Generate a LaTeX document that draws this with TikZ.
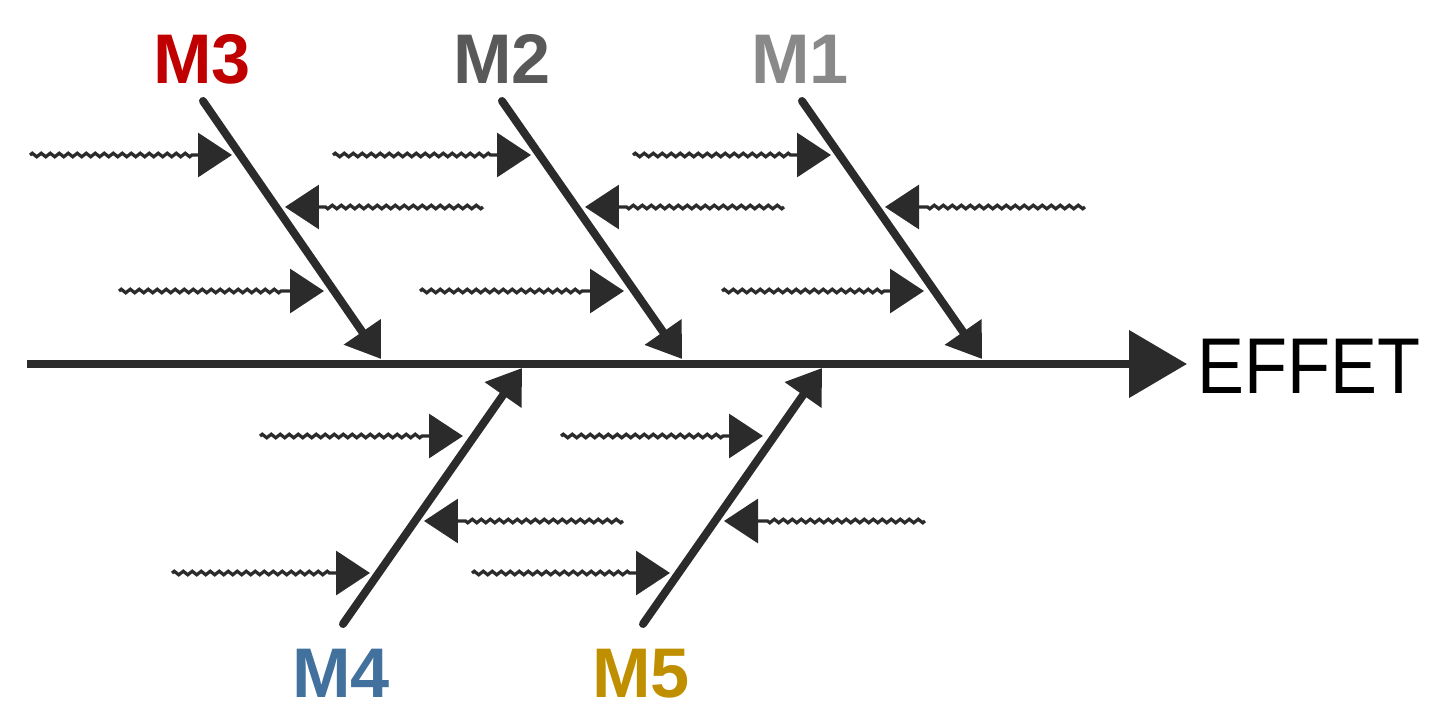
\documentclass[tikz,border=0pt]{standalone}
\usepackage{fontspec}
\setmainfont{Liberation Sans}
\usetikzlibrary{arrows.meta,decorations.pathmorphing}
\definecolor{bonegray}{HTML}{2B2B2B}
\definecolor{mcolA}{HTML}{898989}
\definecolor{mcolB}{HTML}{595959}
\definecolor{mcolC}{HTML}{C00000}
\definecolor{mcolD}{HTML}{41719C}
\definecolor{mcolE}{HTML}{BF8F00}
\begin{document}
\begin{tikzpicture}[x=0.02cm,y=-0.02cm,
  spine/.style={draw=bonegray,line width=0.16cm,-{Triangle[length=1.16cm,width=1.32cm]}},
  bone/.style={draw=bonegray,line width=0.16cm,line cap=round,-{Triangle[length=0.66cm,width=0.86cm]}},
  cause/.style={draw=bonegray,line width=0.065cm,decorate,
    decoration={zigzag,segment length=0.18cm,amplitude=0.035cm,post length=0.8cm},
    -{Triangle[length=0.68cm,width=0.88cm]}},
  mname/.style={anchor=base,inner sep=0pt,font=\fontsize{40}{40}\selectfont\bfseries}]
\useasboundingbox (0,0) rectangle (1444,727);

% labels
\node[mname,text=mcolC] (m3) at (202,83) {M3};
\node[mname,text=mcolB] (m2) at (502,83) {M2};
\node[mname,text=mcolA] (m1) at (800,83) {M1};
\node[mname,text=mcolD] (m4) at (341,697) {M4};
\node[mname,text=mcolE] (m5) at (641,697) {M5};
\node[anchor=base west,inner sep=0pt,font=\fontsize{45}{45}\selectfont] (effet) at (1197,393) {\scalebox{0.89}[1]{EFFET}};

% spine
\coordinate (tail) at (27,364);
\path[spine] (tail) -- (tail -| effet.west) [shorten >=0.2cm];

% bones
\coordinate (m3s) at (203,101);
\coordinate (m3e) at (381,359);
\coordinate (m2s) at (502,101);
\coordinate (m2e) at (682,359);
\coordinate (m1s) at (802,101);
\coordinate (m1e) at (982,359);
\coordinate (m4s) at (343,624);
\coordinate (m4e) at (522,368);
\coordinate (m5s) at (643,624);
\coordinate (m5e) at (822,368);
\path[bone] (m3s) -- (m3e);
\path[bone] (m2s) -- (m2e);
\path[bone] (m1s) -- (m1e);
\path[bone] (m4s) -- (m4e);
\path[bone] (m5s) -- (m5e);

% causes M3
\coordinate (c3a) at (30,155);   \coordinate (t3a) at (232,155);
\coordinate (c3b) at (483,207);  \coordinate (t3b) at (285,207);
\coordinate (c3c) at (119,291);  \coordinate (t3c) at (324,291);
\path[cause] (c3a) -- (t3a);
\path[cause] (c3b) -- (t3b);
\path[cause] (c3c) -- (t3c);

% causes M2
\coordinate (c2a) at (333,155);  \coordinate (t2a) at (531,155);
\coordinate (c2b) at (784,207);  \coordinate (t2b) at (585,207);
\coordinate (c2c) at (420,291);  \coordinate (t2c) at (624,291);
\path[cause] (c2a) -- (t2a);
\path[cause] (c2b) -- (t2b);
\path[cause] (c2c) -- (t2c);

% causes M1
\coordinate (c1a) at (633,155);  \coordinate (t1a) at (831,155);
\coordinate (c1b) at (1085,207); \coordinate (t1b) at (885,207);
\coordinate (c1c) at (722,291);  \coordinate (t1c) at (924,291);
\path[cause] (c1a) -- (t1a);
\path[cause] (c1b) -- (t1b);
\path[cause] (c1c) -- (t1c);

% causes M4
\coordinate (c4a) at (260,436);  \coordinate (t4a) at (463,436);
\coordinate (c4b) at (623,521);  \coordinate (t4b) at (424,521);
\coordinate (c4c) at (172,573);  \coordinate (t4c) at (370,573);
\path[cause] (c4a) -- (t4a);
\path[cause] (c4b) -- (t4b);
\path[cause] (c4c) -- (t4c);

% causes M5
\coordinate (c5a) at (561,436);  \coordinate (t5a) at (763,436);
\coordinate (c5b) at (925,521);  \coordinate (t5b) at (724,521);
\coordinate (c5c) at (472,573);  \coordinate (t5c) at (670,573);
\path[cause] (c5a) -- (t5a);
\path[cause] (c5b) -- (t5b);
\path[cause] (c5c) -- (t5c);
\end{tikzpicture}
\end{document}
